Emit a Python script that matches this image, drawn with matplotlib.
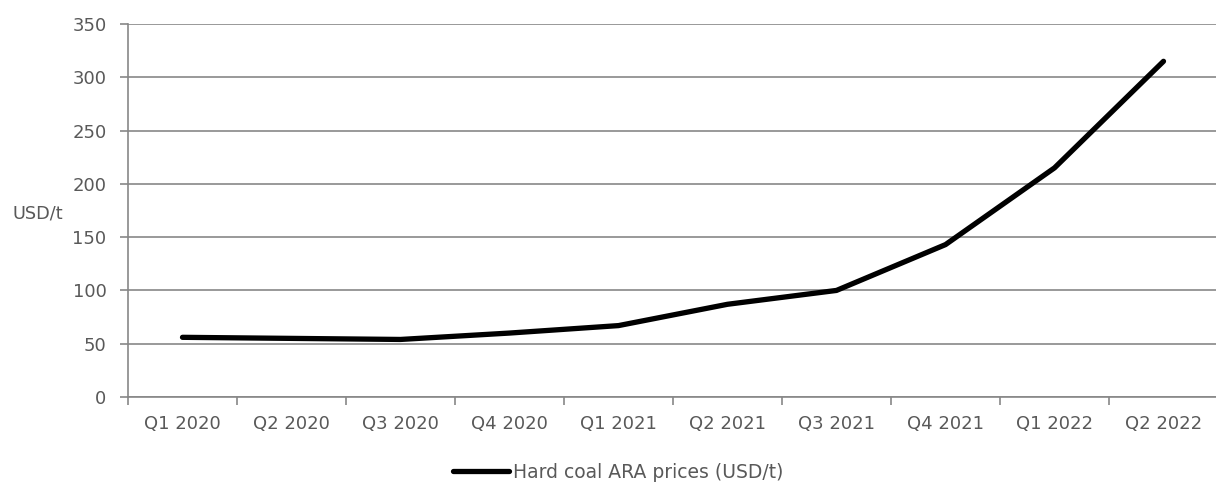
import matplotlib
matplotlib.use('Agg')
import matplotlib.pyplot as plt

# quarterly hard coal prices at ARA, USD per tonne
quarters = ['Q1 2020', 'Q2 2020', 'Q3 2020', 'Q4 2020', 'Q1 2021',
            'Q2 2021', 'Q3 2021', 'Q4 2021', 'Q1 2022', 'Q2 2022']
prices = [56, 55, 54, 60, 67, 87, 100, 143, 215, 315]
yticks = [0, 50, 100, 150, 200, 250, 300, 350]

txt = '#595959'
grid = '#878787'

plt.rcParams['font.family'] = ['DejaVu Sans']

fig = plt.figure(figsize=(12.16, 4.83), dpi=100)
ax = fig.add_axes([128 / 1216, 86 / 483, 1090 / 1216, 373 / 483])

x = range(len(quarters))
ax.plot(x, prices, color='black', lw=3.8, solid_capstyle='round',
        solid_joinstyle='round', label='Hard coal ARA prices (USD/t)', zorder=3)

ax.set_xlim(-0.5, len(quarters) - 0.5)
ax.set_ylim(0, 350)
ax.set_yticks(yticks)
ax.yaxis.grid(True, color=grid, lw=1.2)
ax.set_axisbelow(True)

# category ticks sit between the labels
ax.set_xticks([i - 0.5 for i in range(len(quarters) + 1)])
ax.set_xticklabels([])
ax.set_xticks(list(x), minor=True)
ax.set_xticklabels(quarters, minor=True)
ax.tick_params(axis='x', which='minor', length=0, pad=13, labelsize=13, labelcolor=txt)
ax.tick_params(axis='x', which='major', length=6, width=1.2, color=grid)
ax.tick_params(axis='y', length=6, width=1.2, color=grid, pad=9.5, labelsize=13, labelcolor=txt)

for s in ['top', 'right']:
    ax.spines[s].set_visible(False)
for s in ['left', 'bottom']:
    ax.spines[s].set_color(grid)
    ax.spines[s].set_linewidth(1.2)

fig.text(12 / 1216, 1 - 213 / 483, 'USD/t', color=txt, fontsize=12.7, va='center', ha='left')

leg = fig.legend(loc='center', bbox_to_anchor=(618 / 1216, 1 - 472 / 483), frameon=False,
                 fontsize=13.5, handlelength=3.0, handletextpad=0.2)
for t in leg.get_texts():
    t.set_color(txt)

fig.savefig('out.png', dpi=100)
